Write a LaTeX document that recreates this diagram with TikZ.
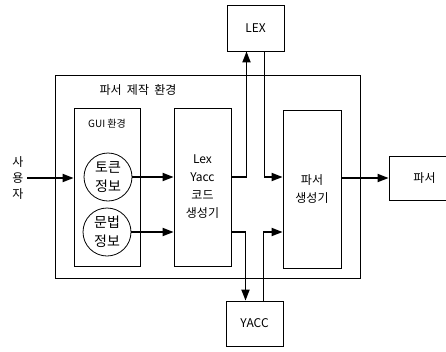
\documentclass[tikz,border=0pt]{standalone}
\usepackage{fontspec}
\setmainfont{Noto Sans CJK KR}
\usetikzlibrary{arrows.meta,positioning,calc}

\begin{document}
\begin{tikzpicture}[x=1pt, y=-1pt,
  font=\fontsize{12}{18}\selectfont,
  blk/.style={draw, line width=0.8pt, align=center, inner sep=1pt},
  info/.style={draw, circle, line width=0.8pt, minimum size=48pt,
    align=center, inner sep=0pt, font=\fontsize{14}{19}\selectfont},
  flow/.style={-{Triangle[length=11pt,width=8pt]}, line width=1.8pt}
]
\useasboundingbox (0,0) rectangle (446,351);
\clip (0,0) rectangle (446,351);
% parser environment
\node[blk, minimum width=305pt, minimum height=203pt] (env) at (207.5,176.5) {};
\node (envt) at (138,90) {파서\ \ 제작\ \ 환경};
\node[blk, minimum width=66pt, minimum height=158pt] (gui) at (107,187) {};
\node[font=\fontsize{10}{12}\selectfont] (guit) at (107,124) {GUI 환경};
\node[info] (tok) at (108,177) {토큰\\정보};
\node[info] (gram) at (107,232) {문법\\정보};
\node[blk, minimum width=57pt, minimum height=158pt] (lyg) at (202.5,187)
  {Lex\\Yacc\\코드\\생성기};
\node[blk, minimum width=58pt, minimum height=158pt] (pg) at (312,189)
  {파서\\생성기};
% outside
\node[align=center, font=\fontsize{12}{16}\selectfont] (usr) at (18,178) {사\\용\\자};
\node[blk, minimum width=57pt, minimum height=46pt] (lex) at (255.5,28) {LEX};
\node[blk, minimum width=57pt, minimum height=45pt] (yacc) at (254.5,323.5) {YACC};
\node[blk, minimum width=71pt, minimum height=44pt, text width=60pt] (psr) at (424.5,178) {파서};
% flows
\draw[flow] (usr.east) -- (usr.east -| gui.west);
\draw[flow] (tok.east) -- (tok.east -| lyg.west);
\draw[flow] (gram.east) -- (gram.east -| lyg.west);
\draw[flow] (lyg.east |- tok) -| ([xshift=-9pt]lex.south);
\draw[flow] ([xshift=9pt]lex.south) |- (pg.west |- tok);
\draw[flow] (lyg.east |- gram) -| ([xshift=-9pt]yacc.north);
\draw[flow] ([xshift=9pt]yacc.north) |- (pg.west |- gram);
\draw[flow] (pg.east |- psr) -- (psr.west);
\end{tikzpicture}
\end{document}
